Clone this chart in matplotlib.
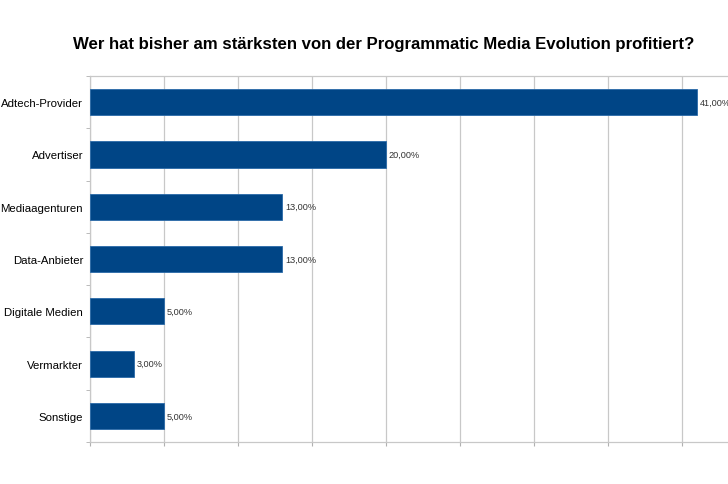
import matplotlib.pyplot as plt

plt.rcParams['font.family'] = ['Liberation Sans', 'DejaVu Sans']

categories = ['Adtech-Provider', 'Advertiser', 'Mediaagenturen', 'Data-Anbieter',
              'Digitale Medien', 'Vermarkter', 'Sonstige']
values = [41, 20, 13, 13, 5, 3, 5]
value_labels = ['41,00%', '20,00%', '13,00%', '13,00%', '5,00%', '3,00%', '5,00%']

fig = plt.figure(figsize=(7.28, 4.85), dpi=100)
# axis is wider than the picture (the right edge is cut off in the original)
ax = fig.add_axes([90 / 728, 1 - 443 / 485, (756 - 90) / 728, (443 - 77) / 485])

ypos = list(range(len(categories)))
ax.barh(ypos, values, height=0.5, color='#004586', edgecolor='#2a6aa8', linewidth=0.6, zorder=3)
for y, v, lab in zip(ypos, values, value_labels):
    ax.annotate(lab, (v, y), xytext=(2, 0), textcoords='offset points',
                va='center', ha='left', fontsize=6.6, color='#333333', zorder=4)

ax.set_xlim(0, 45)
ax.set_ylim(len(categories) - 0.5, -0.5)
ax.set_xticks(range(0, 46, 5))
ax.set_xticklabels([])
ax.set_yticks(ypos)
ax.set_yticklabels(categories, fontsize=8.2)
ax.set_yticks([i - 0.5 for i in range(len(categories) + 1)], minor=True)
ax.tick_params(axis='y', which='major', length=0, pad=5)
ax.tick_params(axis='y', which='minor', length=3, color='#b0b0b0')
ax.tick_params(axis='x', length=3, color='#b0b0b0')
ax.grid(axis='x', color='#c8c8c8', linewidth=0.9, zorder=0)
for s in ax.spines.values():
    s.set_color('#c8c8c8')
    s.set_linewidth(0.9)

fig.text(384 / 728, 1 - 45 / 485, 'Wer hat bisher am stärksten von der Programmatic Media Evolution profitiert?',
         ha='center', va='center', fontsize=12.1, fontweight='bold')

fig.savefig('out.png', dpi=100)
